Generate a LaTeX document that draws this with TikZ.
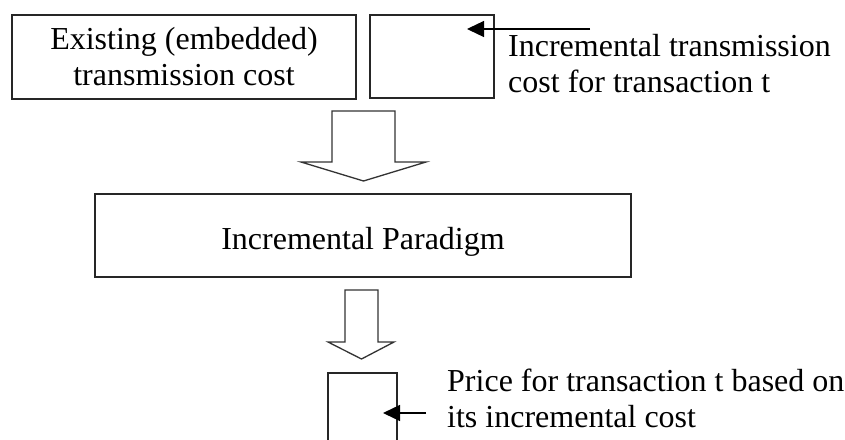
\documentclass[tikz,border=0pt]{standalone}
\usepackage{fontspec}
\setmainfont{Liberation Serif}
\usetikzlibrary{arrows.meta,calc}
\begin{document}
\begin{tikzpicture}[x=1pt,y=-1pt,
  box/.style={draw=black!85,line width=1.4pt,inner sep=0pt},
  txt/.style={inner sep=0pt,font=\fontsize{32}{36}\selectfont},
  blockarrow/.style={draw=black!80,line width=1.3pt,fill=white,line join=miter},
  pointer/.style={draw=black,line width=1.3pt,-{Triangle[length=17pt,width=16pt]}}]
\clip (0,0) rectangle (845,439);
\fill[white] (0,0) rectangle (845,439);

% boxes
\node[box,minimum width=344pt,minimum height=84pt] (existing) at (184,57) {};
\node[box,minimum width=124pt,minimum height=83pt] (incbox) at (432,56.5) {};
\node[box,minimum width=536pt,minimum height=83pt] (paradigm) at (363,235.5) {};
\node[box,minimum width=69pt,minimum height=97pt] (price) at (362.5,421.5) {};

% texts
\node[txt,anchor=base] (ex1) at (184,49) {Existing (embedded)};
\node[txt,anchor=base] (ex2) at (184,85) {transmission cost};
\node[txt,anchor=base west] (inc1) at (508,56) {Incremental transmission};
\node[txt,anchor=base west] (inc2) at (508,92) {cost for transaction t};
\node[txt,anchor=base] (para) at (363,249) {Incremental Paradigm};
\node[txt,anchor=base west] (pr1) at (447,391) {Price for transaction t based on};
\node[txt,anchor=base west] (pr2) at (447,427) {its incremental cost};

% block arrows
\draw[blockarrow] (332,111) -- (395,111) -- (395,162) -- (426,162) -- (363.5,181)
  -- (301,162) -- (332,162) -- cycle;
\draw[blockarrow] (345,290) -- (378,290) -- (378,342) -- (394,342) -- (361.5,359)
  -- (328,342) -- (345,342) -- cycle;

% pointers
\coordinate (p1s) at (590,29);
\coordinate (p1e) at (467,29);
\draw[pointer] (p1s) -- (p1e);
\coordinate (p2s) at (426,413);
\coordinate (p2e) at (383,413);
\draw[pointer] (p2s) -- (p2e);
\end{tikzpicture}
\end{document}
